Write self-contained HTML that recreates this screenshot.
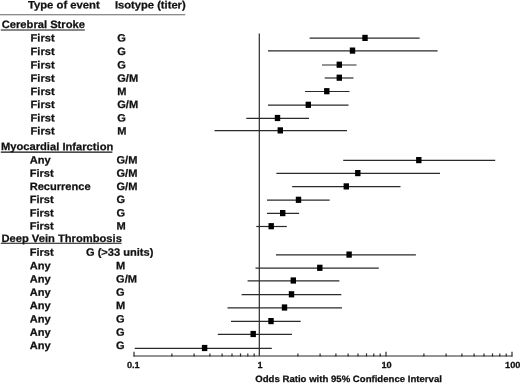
<!DOCTYPE html>
<html><head><meta charset="utf-8"><title>Forest plot</title>
<style>
html,body{margin:0;padding:0;background:#fff;}
body{width:520px;height:383px;overflow:hidden;}
svg{display:block;will-change:transform;}
text{font-family:"Liberation Sans",sans-serif;font-weight:bold;fill:#111;stroke:#111;stroke-width:0.25px;}
.t{font-size:10.6px;}
.a{font-size:8.8px;}
.l{stroke:#2a2a2a;stroke-width:1.2;}
</style></head><body>
<svg width="520" height="383" viewBox="0 0 520 383">
<rect width="520" height="383" fill="#fff"/>

<text class="t" style="font-size:10.8px" transform="translate(27.90,8.40) rotate(0.03) scale(1.045,1)">Type of event</text>
<text class="t" style="font-size:10.7px" transform="translate(114.90,8.50) rotate(0.03) scale(1.045,1)">Isotype (titer)</text>
<line x1="0" y1="14.75" x2="185.3" y2="14.75" stroke="#666" stroke-width="1.1"/>
<text class="t" style="font-size:10.7px" transform="translate(1.70,27.90) rotate(0.03) scale(1.045,1)">Cerebral Stroke</text>
<line x1="0.8" y1="30.0" x2="84.8" y2="30.0" stroke="#111" stroke-width="1.1"/>
<text class="t" style="font-size:10.7px" transform="translate(0.90,150.10) rotate(0.03) scale(1.045,1)">Myocardial Infarction</text>
<line x1="0.8" y1="152.1" x2="112.4" y2="152.1" stroke="#111" stroke-width="1.1"/>
<text class="t" style="font-size:10.7px" transform="translate(1.40,242.00) rotate(0.03) scale(1.045,1)">Deep Vein Thrombosis</text>
<line x1="0.8" y1="243.2" x2="121.6" y2="243.2" stroke="#111" stroke-width="1.1"/>
<text class="t" transform="translate(30.60,41.40) rotate(0.03) scale(1.045,1)">First</text><text class="t" transform="translate(117.20,41.40) rotate(0.03) scale(1.045,1)">G</text>
<line class="l" x1="309.6" y1="38.2" x2="419.6" y2="38.2"/>
<rect x="362.3" y="34.8" width="5.4" height="6.2" fill="#000"/>
<text class="t" transform="translate(30.60,54.90) rotate(0.03) scale(1.045,1)">First</text><text class="t" transform="translate(117.20,54.90) rotate(0.03) scale(1.045,1)">G</text>
<line class="l" x1="268.0" y1="50.9" x2="437.6" y2="50.9"/>
<rect x="349.8" y="47.5" width="5.4" height="6.2" fill="#000"/>
<text class="t" transform="translate(30.60,68.40) rotate(0.03) scale(1.045,1)">First</text><text class="t" transform="translate(117.20,68.40) rotate(0.03) scale(1.045,1)">G</text>
<line class="l" x1="322.0" y1="65.0" x2="356.5" y2="65.0"/>
<rect x="336.6" y="61.6" width="5.4" height="6.2" fill="#000"/>
<text class="t" transform="translate(30.60,81.70) rotate(0.03) scale(1.045,1)">First</text><text class="t" transform="translate(117.20,81.70) rotate(0.03) scale(1.045,1)">G/M</text>
<line class="l" x1="324.7" y1="78.0" x2="353.5" y2="78.0"/>
<rect x="336.6" y="74.6" width="5.4" height="6.2" fill="#000"/>
<text class="t" transform="translate(30.60,95.00) rotate(0.03) scale(1.045,1)">First</text><text class="t" transform="translate(117.20,95.00) rotate(0.03) scale(1.045,1)">M</text>
<line class="l" x1="305.0" y1="91.5" x2="349.5" y2="91.5"/>
<rect x="324.1" y="88.1" width="5.4" height="6.2" fill="#000"/>
<text class="t" transform="translate(30.60,108.00) rotate(0.03) scale(1.045,1)">First</text><text class="t" transform="translate(117.20,108.00) rotate(0.03) scale(1.045,1)">G/M</text>
<line class="l" x1="268.0" y1="105.1" x2="348.5" y2="105.1"/>
<rect x="305.6" y="101.7" width="5.4" height="6.2" fill="#000"/>
<text class="t" transform="translate(30.60,121.60) rotate(0.03) scale(1.045,1)">First</text><text class="t" transform="translate(117.20,121.60) rotate(0.03) scale(1.045,1)">G</text>
<line class="l" x1="246.3" y1="118.3" x2="309.0" y2="118.3"/>
<rect x="274.8" y="114.9" width="5.4" height="6.2" fill="#000"/>
<text class="t" transform="translate(30.60,134.60) rotate(0.03) scale(1.045,1)">First</text><text class="t" transform="translate(117.20,134.60) rotate(0.03) scale(1.045,1)">M</text>
<line class="l" x1="214.5" y1="130.7" x2="347.0" y2="130.7"/>
<rect x="277.6" y="127.3" width="5.4" height="6.2" fill="#000"/>
<text class="t" transform="translate(29.70,163.50) rotate(0.03) scale(1.045,1)">Any</text><text class="t" transform="translate(116.50,163.50) rotate(0.03) scale(1.045,1)">G/M</text>
<line class="l" x1="343.2" y1="160.4" x2="495.2" y2="160.4"/>
<rect x="416.1" y="157.0" width="5.4" height="6.2" fill="#000"/>
<text class="t" transform="translate(29.70,176.80) rotate(0.03) scale(1.045,1)">First</text><text class="t" transform="translate(116.50,176.80) rotate(0.03) scale(1.045,1)">G/M</text>
<line class="l" x1="276.4" y1="173.4" x2="440.0" y2="173.4"/>
<rect x="355.1" y="170.0" width="5.4" height="6.2" fill="#000"/>
<text class="t" transform="translate(29.70,190.00) rotate(0.03) scale(1.045,1)">Recurrence</text><text class="t" transform="translate(116.50,190.00) rotate(0.03) scale(1.045,1)">G/M</text>
<line class="l" x1="292.2" y1="186.7" x2="400.5" y2="186.7"/>
<rect x="343.6" y="183.3" width="5.4" height="6.2" fill="#000"/>
<text class="t" transform="translate(29.70,203.10) rotate(0.03) scale(1.045,1)">First</text><text class="t" transform="translate(116.50,203.10) rotate(0.03) scale(1.045,1)">G</text>
<line class="l" x1="267.0" y1="200.1" x2="329.7" y2="200.1"/>
<rect x="295.8" y="196.7" width="5.4" height="6.2" fill="#000"/>
<text class="t" transform="translate(29.70,216.40) rotate(0.03) scale(1.045,1)">First</text><text class="t" transform="translate(116.50,216.40) rotate(0.03) scale(1.045,1)">G</text>
<line class="l" x1="267.0" y1="213.4" x2="299.1" y2="213.4"/>
<rect x="280.0" y="210.0" width="5.4" height="6.2" fill="#000"/>
<text class="t" transform="translate(29.70,229.60) rotate(0.03) scale(1.045,1)">First</text><text class="t" transform="translate(116.50,229.60) rotate(0.03) scale(1.045,1)">M</text>
<line class="l" x1="256.3" y1="226.5" x2="286.8" y2="226.5"/>
<rect x="268.5" y="223.1" width="5.4" height="6.2" fill="#000"/>
<text class="t" transform="translate(29.70,255.70) rotate(0.03) scale(1.045,1)">First</text><text class="t" transform="translate(86.00,255.70) rotate(0.03) scale(1.045,1)">G (&gt;33 units)</text>
<line class="l" x1="276.0" y1="254.9" x2="415.9" y2="254.9"/>
<rect x="346.4" y="251.5" width="5.4" height="6.2" fill="#000"/>
<text class="t" transform="translate(29.70,269.20) rotate(0.03) scale(1.045,1)">Any</text><text class="t" transform="translate(116.10,269.20) rotate(0.03) scale(1.045,1)">M</text>
<line class="l" x1="255.5" y1="268.1" x2="378.8" y2="268.1"/>
<rect x="317.1" y="264.7" width="5.4" height="6.2" fill="#000"/>
<text class="t" transform="translate(29.70,282.50) rotate(0.03) scale(1.045,1)">Any</text><text class="t" transform="translate(116.10,282.50) rotate(0.03) scale(1.045,1)">G/M</text>
<line class="l" x1="247.6" y1="280.8" x2="339.4" y2="280.8"/>
<rect x="290.6" y="277.4" width="5.4" height="6.2" fill="#000"/>
<text class="t" transform="translate(29.70,295.80) rotate(0.03) scale(1.045,1)">Any</text><text class="t" transform="translate(116.10,295.80) rotate(0.03) scale(1.045,1)">G</text>
<line class="l" x1="241.6" y1="294.6" x2="341.3" y2="294.6"/>
<rect x="288.8" y="291.2" width="5.4" height="6.2" fill="#000"/>
<text class="t" transform="translate(29.70,309.10) rotate(0.03) scale(1.045,1)">Any</text><text class="t" transform="translate(116.10,309.10) rotate(0.03) scale(1.045,1)">M</text>
<line class="l" x1="227.5" y1="307.8" x2="342.0" y2="307.8"/>
<rect x="281.8" y="304.4" width="5.4" height="6.2" fill="#000"/>
<text class="t" transform="translate(29.70,322.50) rotate(0.03) scale(1.045,1)">Any</text><text class="t" transform="translate(116.10,322.50) rotate(0.03) scale(1.045,1)">G</text>
<line class="l" x1="231.0" y1="321.4" x2="300.7" y2="321.4"/>
<rect x="268.3" y="318.0" width="5.4" height="6.2" fill="#000"/>
<text class="t" transform="translate(29.70,335.70) rotate(0.03) scale(1.045,1)">Any</text><text class="t" transform="translate(116.10,335.70) rotate(0.03) scale(1.045,1)">G</text>
<line class="l" x1="217.8" y1="334.3" x2="291.9" y2="334.3"/>
<rect x="250.5" y="330.9" width="5.4" height="6.2" fill="#000"/>
<text class="t" transform="translate(29.70,349.00) rotate(0.03) scale(1.045,1)">Any</text><text class="t" transform="translate(116.10,349.00) rotate(0.03) scale(1.045,1)">G</text>
<line class="l" x1="134.7" y1="348.3" x2="271.8" y2="348.3"/>
<rect x="201.9" y="344.9" width="5.4" height="6.2" fill="#000"/>
<line class="l" x1="259.3" y1="33.6" x2="259.3" y2="356.0"/>
<line class="l" x1="133.5" y1="356.0" x2="512.5" y2="356.0"/>
<line class="l" x1="134.0" y1="351.8" x2="134.0" y2="356.5"/>
<line class="l" x1="171.9" y1="353.4" x2="171.9" y2="356.5"/>
<line class="l" x1="194.1" y1="353.4" x2="194.1" y2="356.5"/>
<line class="l" x1="209.9" y1="353.4" x2="209.9" y2="356.5"/>
<line class="l" x1="222.1" y1="353.4" x2="222.1" y2="356.5"/>
<line class="l" x1="232.0" y1="353.4" x2="232.0" y2="356.5"/>
<line class="l" x1="240.5" y1="353.4" x2="240.5" y2="356.5"/>
<line class="l" x1="247.8" y1="353.4" x2="247.8" y2="356.5"/>
<line class="l" x1="254.2" y1="353.4" x2="254.2" y2="356.5"/>
<line class="l" x1="297.9" y1="353.4" x2="297.9" y2="356.5"/>
<line class="l" x1="320.1" y1="353.4" x2="320.1" y2="356.5"/>
<line class="l" x1="335.9" y1="353.4" x2="335.9" y2="356.5"/>
<line class="l" x1="348.1" y1="353.4" x2="348.1" y2="356.5"/>
<line class="l" x1="358.0" y1="353.4" x2="358.0" y2="356.5"/>
<line class="l" x1="366.5" y1="353.4" x2="366.5" y2="356.5"/>
<line class="l" x1="373.8" y1="353.4" x2="373.8" y2="356.5"/>
<line class="l" x1="380.2" y1="353.4" x2="380.2" y2="356.5"/>
<line class="l" x1="386.0" y1="351.8" x2="386.0" y2="356.5"/>
<line class="l" x1="423.9" y1="353.4" x2="423.9" y2="356.5"/>
<line class="l" x1="446.1" y1="353.4" x2="446.1" y2="356.5"/>
<line class="l" x1="461.9" y1="353.4" x2="461.9" y2="356.5"/>
<line class="l" x1="474.1" y1="353.4" x2="474.1" y2="356.5"/>
<line class="l" x1="484.0" y1="353.4" x2="484.0" y2="356.5"/>
<line class="l" x1="492.5" y1="353.4" x2="492.5" y2="356.5"/>
<line class="l" x1="499.8" y1="353.4" x2="499.8" y2="356.5"/>
<line class="l" x1="506.2" y1="353.4" x2="506.2" y2="356.5"/>
<line class="l" x1="512.0" y1="351.8" x2="512.0" y2="356.5"/>
<text class="a" text-anchor="middle" transform="translate(133.30,368.00) rotate(0.03) scale(1.045,1)">0.1</text>
<text class="a" text-anchor="middle" transform="translate(260.00,368.00) rotate(0.03) scale(1.045,1)">1</text>
<text class="a" text-anchor="middle" transform="translate(386.50,368.00) rotate(0.03) scale(1.045,1)">10</text>
<text class="a" text-anchor="middle" transform="translate(512.80,368.00) rotate(0.03) scale(1.045,1)">100</text>
<text class="a" style="font-size:9.2px" transform="translate(255.30,381.90) rotate(0.03) scale(1.045,1)">Odds Ratio with 95% Confidence Interval</text>
</svg></body></html>
